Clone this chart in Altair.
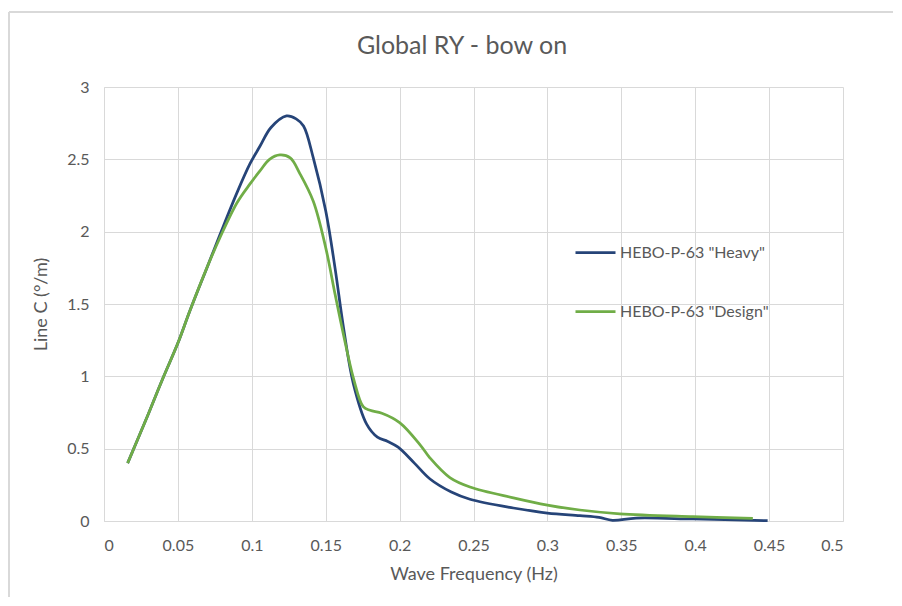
import altair as alt
import pandas as pd

# ---- data ----
heavy_x = [0.016, 0.03, 0.04, 0.05, 0.058, 0.07, 0.0785, 0.09, 0.0988, 0.1055, 0.113, 0.1235,
           0.13, 0.135, 0.1416, 0.15, 0.1563, 0.162, 0.1687, 0.1777, 0.185, 0.192, 0.199, 0.21,
           0.2206, 0.235, 0.2476, 0.277, 0.30, 0.322, 0.335, 0.344, 0.36, 0.3985, 0.449]
heavy_y = [0.40, 0.74, 0.99, 1.23, 1.45, 1.76, 1.98, 2.27, 2.47, 2.59, 2.72, 2.80,
           2.78, 2.73, 2.51, 2.145, 1.75, 1.34, 0.95, 0.67, 0.58, 0.55, 0.51, 0.40,
           0.29, 0.20, 0.15, 0.09, 0.055, 0.037, 0.025, 0.005, 0.02, 0.014, 0.002]

design_x = [0.016, 0.03, 0.04, 0.05, 0.058, 0.07, 0.0785, 0.09, 0.0988, 0.1055, 0.112, 0.119,
            0.126, 0.1326, 0.1416, 0.15, 0.1563, 0.162, 0.1687, 0.1754, 0.18, 0.188, 0.2, 0.214,
            0.2206, 0.234, 0.2476, 0.277, 0.30, 0.322, 0.349, 0.3985, 0.439]
design_y = [0.40, 0.74, 0.99, 1.23, 1.45, 1.76, 1.96, 2.20, 2.33, 2.42, 2.50, 2.53,
            2.51, 2.40, 2.21, 1.89, 1.57, 1.29, 0.99, 0.79, 0.765, 0.745, 0.68, 0.525,
            0.435, 0.30, 0.235, 0.16, 0.11, 0.076, 0.05, 0.03, 0.018]

series_names = ['HEBO-P-63 "Heavy"', 'HEBO-P-63 "Design"']
series_colors = ["#264478", "#70AD47"]

x_ticks = [0, 0.05, 0.1, 0.15, 0.2, 0.25, 0.3, 0.35, 0.4, 0.45, 0.5]
y_ticks = [0, 0.5, 1, 1.5, 2, 2.5, 3]

chart_title = ["Global RY - bow on"]

df = pd.concat([
    pd.DataFrame({"x": heavy_x, "y": heavy_y, "s": series_names[0], "o": 0}),
    pd.DataFrame({"x": design_x, "y": design_y, "s": series_names[1], "o": 1}),
])

FONT = "Lato"
GREY = "#595959"
GRID = "#d9d9d9"

W, H = 739, 434
PAD = {"left": 96, "top": 79, "right": 50, "bottom": 76}

lines = alt.Chart(df).mark_line(interpolate="catmull-rom", strokeWidth=2.75).encode(
    x=alt.X("x:Q", scale=alt.Scale(domain=[0, 0.5], nice=False),
            axis=alt.Axis(values=x_ticks, format="~g", title="Wave Frequency (Hz)",
                          labelPadding=16, titlePadding=12)),
    y=alt.Y("y:Q", scale=alt.Scale(domain=[0, 3], nice=False),
            axis=alt.Axis(values=y_ticks, format="~g", title="Line C (°/m)",
                          labelPadding=15, titlePadding=16)),
    color=alt.Color("s:N", scale=alt.Scale(domain=series_names, range=series_colors),
                    legend=alt.Legend(title=None, orient="none", legendX=470, legendY=144,
                                      symbolType="stroke", symbolSize=1600, symbolStrokeWidth=2.75,
                                      rowPadding=29, labelOffset=3, labelFontSize=16,
                                      labelColor=GREY, labelFont=FONT)),
    order="o:Q",
)

title_df = pd.DataFrame({"t": chart_title})
title = alt.Chart(title_df).mark_text(font=FONT, fontSize=25, color=GREY, align="center",
                                      baseline="alphabetic").encode(
    text="t:N", x=alt.value(358), y=alt.value(-33))

# outer chart-area border (Excel style): left edge and top edge as separate rules
border_df = pd.DataFrame({"k": [0]})
vborder = alt.Chart(border_df).mark_rule(color=GRID, strokeWidth=2).encode(
    x=alt.value(-95), x2=alt.value(-95), y=alt.value(-75), y2=alt.value(H + PAD["bottom"]))
hborder = alt.Chart(border_df).mark_rule(color=GRID, strokeWidth=2).encode(
    x=alt.value(-95), x2=alt.value(W + PAD["right"]), y=alt.value(-75), y2=alt.value(-75))

chart = alt.layer(vborder, hborder, title, lines).properties(
    width=W, height=H,
    autosize=alt.AutoSizeParams(type="none"),
    padding=PAD,
).configure_view(stroke=None).configure_axis(
    grid=True, gridColor=GRID, gridWidth=1, domainColor=GRID, domainWidth=1,
    ticks=False, labelColor=GREY, titleColor=GREY, labelFont=FONT, titleFont=FONT,
    labelFontSize=16, titleFontSize=18, titleFontWeight="normal",
)

chart.save("out.html", embed_options={"renderer": "svg", "actions": False})
